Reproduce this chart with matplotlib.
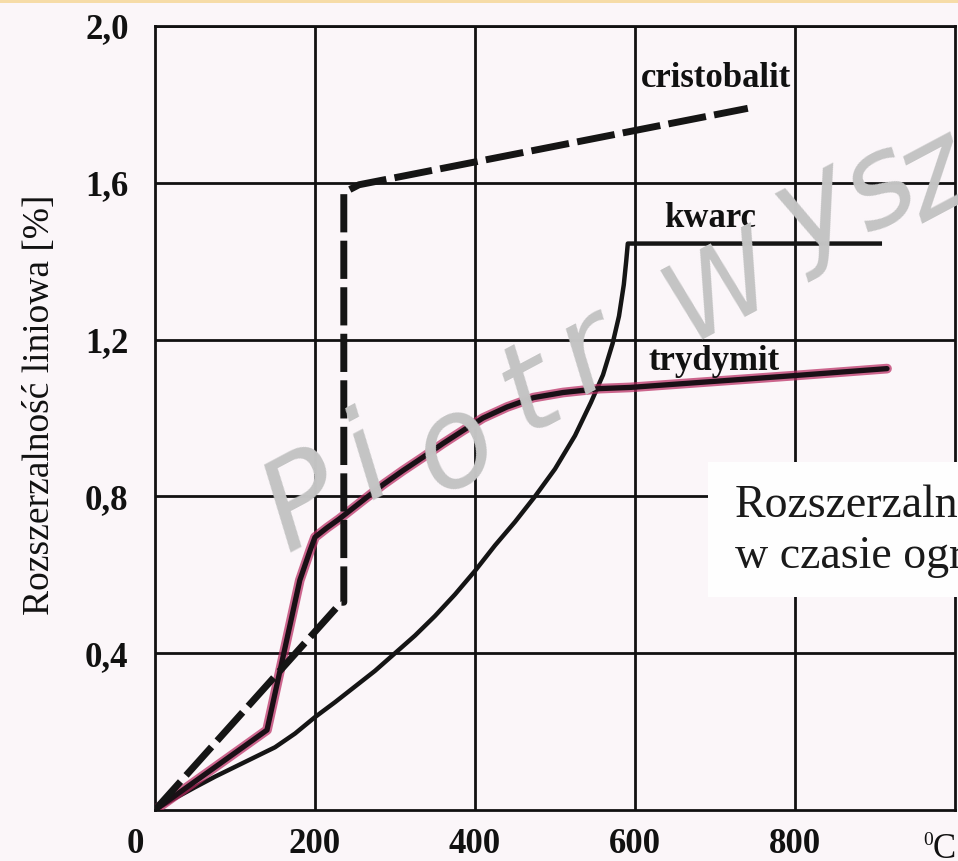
import matplotlib.pyplot as plt
from matplotlib.patches import Rectangle

plt.rcParams['font.family'] = ['Liberation Serif', 'DejaVu Serif']

# temperatura [°C] / rozszerzalność liniowa [%]
kwarc_t = [0, 25, 50, 75, 100, 125, 150, 175, 200, 225, 250, 275, 300, 325, 350, 375, 400,
           425, 450, 475, 500, 525, 545, 560, 572, 580, 586, 589, 591, 906]
kwarc_e = [0, 0.03, 0.058, 0.085, 0.11, 0.135, 0.16, 0.195, 0.237, 0.275, 0.315, 0.355, 0.40,
           0.445, 0.495, 0.55, 0.61, 0.675, 0.735, 0.80, 0.87, 0.955, 1.04, 1.11, 1.19, 1.26,
           1.34, 1.40, 1.445, 1.445]

trydymit_t = [0, 140, 181, 194, 200, 215, 230, 260, 285, 310, 335, 360, 385, 410, 440, 473,
              510, 556, 594, 798, 915]
trydymit_e = [0, 0.204, 0.586, 0.663, 0.696, 0.72, 0.742, 0.79, 0.83, 0.866, 0.90, 0.935,
              0.968, 1.0, 1.028, 1.052, 1.065, 1.075, 1.078, 1.108, 1.126]

cristobalit_t = [0, 233, 236, 236, 255, 741]
cristobalit_e = [0, 0.53, 0.53, 1.575, 1.595, 1.79]

x_ticks = [200, 400, 600, 800]
y_ticks = [0.4, 0.8, 1.2, 1.6, 2.0]
y_labels = ["0,4", "0,8", "1,2", "1,6", "2,0"]

bg = "#fbf6f9"
fig = plt.figure(figsize=(9.58, 8.61), dpi=100, facecolor=bg)
ax = fig.add_axes([155 / 958, 51 / 861, 800 / 958, 784 / 861], facecolor=bg)

ax.set_xlim(0, 1000)
ax.set_ylim(0, 2.0)

# grid
ax.set_xticks(x_ticks, [str(v) for v in x_ticks])
ax.set_yticks(y_ticks, y_labels)
ax.grid(True, color="#111111", lw=2.0)
ax.set_axisbelow(True)
for s in ax.spines.values():
    s.set_linewidth(2.0)
    s.set_color("#111111")
ax.tick_params(length=0, labelsize=25, colors="#111111")
ax.tick_params(axis="x", pad=13)
ax.tick_params(axis="y", pad=19)
for lab in ax.get_xticklabels() + ax.get_yticklabels():
    lab.set_fontweight("bold")

ax.annotate("0", xy=(-25, 0), xycoords=("data", "axes fraction"), xytext=(0, -13),
            textcoords="offset points", ha="center", va="top", fontsize=25,
            fontweight="bold", color="#111111", annotation_clip=False)
ax.text(967, -0.089, "0", fontsize=14, ha="center", va="baseline", color="#111111", clip_on=False)
ax.text(972, -0.122, "C", fontsize=25, ha="left", va="baseline", color="#111111", clip_on=False)

# curves
ax.plot(kwarc_t, kwarc_e, color="#151515", lw=3.2, solid_joinstyle="round", zorder=3)
ax.plot(trydymit_t, trydymit_e, color="#b8285f", lw=7, alpha=0.7,
        solid_joinstyle="round", solid_capstyle="round", zorder=3)
ax.plot(trydymit_t, trydymit_e, color="#1a1016", lw=3.8,
        solid_joinstyle="round", solid_capstyle="round", zorder=4)
ax.plot(cristobalit_t, cristobalit_e, color="#151515", lw=5, ls=(0, (5.5, 1.2)),
        dash_capstyle="butt", dash_joinstyle="round", zorder=5)

lab_opts = dict(fontsize=25, fontweight="bold", ha="center", va="baseline", color="#111111")
ax.text(701, 1.844, "cristobalit", **lab_opts)
ax.text(694, 1.487, "kwarc", **lab_opts)
ax.text(699, 1.122, "trydymit", **lab_opts)

fig.text(40 / 958, (861 - 405) / 861, "Rozszerzalność liniowa [%]", rotation=90,
         fontsize=27, ha="center", va="center", color="#111111")

# white caption box, cut off at the right edge like the scan
fig.patches.append(Rectangle((708 / 958, (861 - 597) / 861), 1, 135 / 861,
                             transform=fig.transFigure, facecolor="#fefefe",
                             edgecolor="none", zorder=6))
fig.text(735 / 958, (861 - 517) / 861, "Rozszerzalność", fontsize=33,
         color="#1a1a1a", zorder=7)
fig.text(735 / 958, (861 - 568) / 861, "w czasie ogrzewania", fontsize=33,
         color="#1a1a1a", zorder=7)

# handwritten watermark, letter by letter along the diagonal
wm_letters = ["P", "i", "o", "t", "r", "W", "y", "s", "z"]
wm_px = [(305, 505), (368, 462), (455, 448), (530, 392), (588, 352), (722, 289), (815, 212),
         (880, 188), (935, 178)]
wm_size = [90, 90, 90, 90, 90, 80, 90, 90, 90]
for ch, (px, py), fs in zip(wm_letters, wm_px, wm_size):
    fig.text(px / 958, 1 - py / 861, ch, rotation=28, fontsize=fs, family="DejaVu Sans",
             style="oblique", color="#c4c4c4", ha="center", va="center", zorder=8)

# thin orange strip at the top of the scan
fig.patches.append(Rectangle((0, 1 - 3 / 861), 1, 3 / 861, transform=fig.transFigure,
                             facecolor="#f6dca8", edgecolor="none", zorder=9))

fig.savefig("out.png", dpi=100, facecolor=bg)
